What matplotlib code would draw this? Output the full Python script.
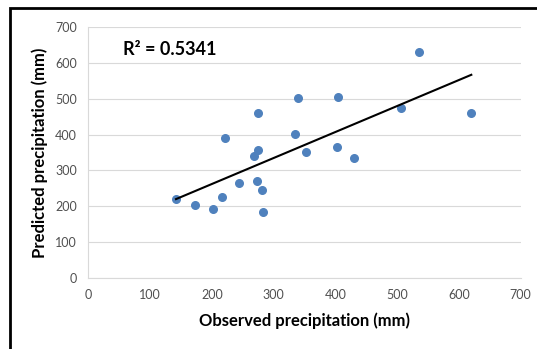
import numpy as np
import matplotlib.pyplot as plt
from matplotlib.patches import Rectangle

observed = [142, 173, 202, 216, 221, 244, 269, 275, 275, 273, 282,
            283, 334, 339, 352, 403, 405, 430, 506, 536, 620]
predicted = [220, 203, 194, 226, 390, 264, 341, 356, 460, 271, 245,
             184, 402, 503, 351, 364, 504, 335, 473, 629, 460]
ticks = [0, 100, 200, 300, 400, 500, 600, 700]
r2_label = "R² = 0.5341"

plt.rcParams['font.family'] = ['Lato', 'DejaVu Sans']

fig = plt.figure(figsize=(5.37, 3.49), dpi=100)
ax = fig.add_axes([0.1644, 0.2026, 0.8053, 0.7209])

# outer chart border (cropped on right and bottom)
fig.patches.append(Rectangle((10 / 537, -0.1), 1.2, 1 - 8 / 349 + 0.1,
                             transform=fig.transFigure, fill=False,
                             edgecolor="black", linewidth=2))

ax.scatter(observed, predicted, s=30, color="#4F81BD", zorder=3)

# linear trend line
slope, intercept = np.polyfit(observed, predicted, 1)
xs = np.array([min(observed), max(observed)])
ax.plot(xs, slope * xs + intercept, color="black", linewidth=1.5, zorder=4)

ax.set_xlim(0, 700)
ax.set_ylim(0, 700)
ax.set_xticks(ticks)
ax.set_yticks(ticks)
ax.grid(axis="y", color="#D9D9D9", linewidth=0.8)
ax.set_axisbelow(True)
for side in ["top", "right"]:
    ax.spines[side].set_visible(False)
for side in ["left", "bottom"]:
    ax.spines[side].set_color("#D9D9D9")
ax.tick_params(length=0, labelsize=9, colors="#505050", pad=8)

ax.set_xlabel("Observed precipitation (mm)", fontsize=12, fontweight="bold", labelpad=8)
ax.set_ylabel("Predicted precipitation (mm)", fontsize=12, fontweight="bold", labelpad=5)

ax.text(57, 636, r2_label, fontsize=13, fontweight="bold", va="center", ha="left")

fig.savefig("out.png", dpi=100)
